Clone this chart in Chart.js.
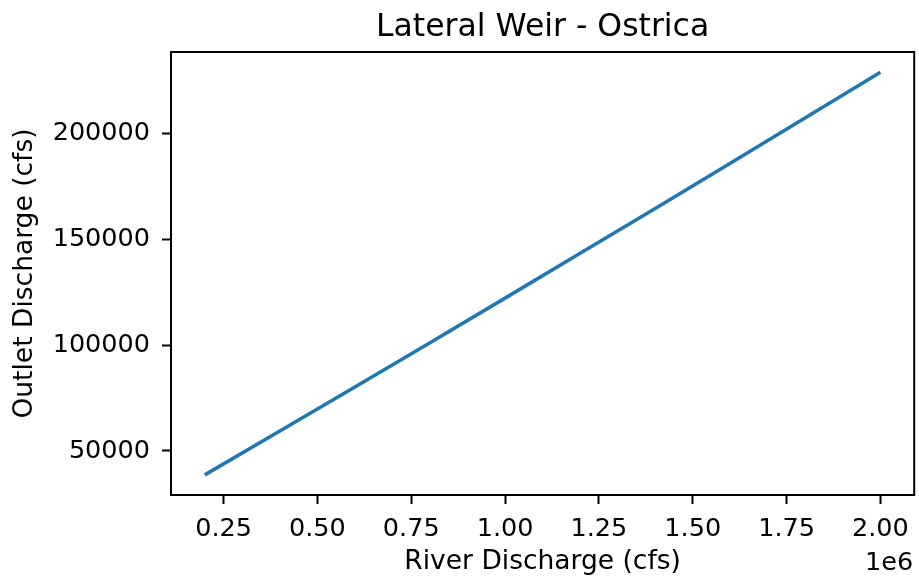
<!DOCTYPE html>
<html>
<head>
<meta charset="utf-8">
<script src="https://cdn.jsdelivr.net/npm/chart.js@4.4.1/dist/chart.umd.min.js"></script>
<style>
  html, body { margin: 0; padding: 0; background: #fff; }
  #wrap { width: 919px; height: 578px; position: relative; }
</style>
</head>
<body>
<div id="wrap"><canvas id="weirChart"></canvas></div>
<script>
// River discharge (cfs) and outlet discharge (cfs)
const riverDischarge = [200000, 400000, 600000, 800000, 1000000, 1200000, 1400000, 1600000, 1800000, 2000000];
const outletDischarge = [38700, 59400, 80300, 101200, 122300, 143500, 164700, 186100, 207600, 229200];

const xTicks = [250000, 500000, 750000, 1000000, 1250000, 1500000, 1750000, 2000000];
const yTicks = [50000, 100000, 150000, 200000];

const FONT = "'DejaVu Sans', sans-serif";

// matplotlib-like 5% margins around the data
const xRange = Math.max(...riverDischarge) - Math.min(...riverDischarge);
const yRange = Math.max(...outletDischarge) - Math.min(...outletDischarge);
const xMin = Math.min(...riverDischarge) - 0.05 * xRange;
const xMax = Math.max(...riverDischarge) + 0.05 * xRange;
const yMin = Math.min(...outletDischarge) - 0.05 * yRange;
const yMax = Math.max(...outletDischarge) + 0.05 * yRange;

// frame, title and the 1e6 offset text
const framePlugin = {
  id: "frame",
  afterDraw(chart) {
    const { ctx, chartArea: a } = chart;
    ctx.save();
    ctx.strokeStyle = "#000";
    ctx.lineWidth = 2;
    ctx.strokeRect(a.left, a.top, a.right - a.left, a.bottom - a.top);
    ctx.fillStyle = "#000";
    ctx.textBaseline = "alphabetic";
    ctx.font = "31.5px " + FONT;
    ctx.textAlign = "center";
    ctx.fillText("Lateral Weir - Ostrica", (a.left + a.right) / 2, 36);
    ctx.font = "25.5px " + FONT;
    ctx.textAlign = "right";
    ctx.fillText("1e6", a.right - 1, 570);
    ctx.restore();
  }
};

new Chart(document.getElementById("weirChart"), {
  type: "scatter",
  data: {
    datasets: [{
      label: "Outlet Discharge",
      data: riverDischarge.map((x, i) => ({ x: x, y: outletDischarge[i] })),
      showLine: true,
      borderColor: "#1f77b4",
      borderWidth: 3.5,
      pointRadius: 0,
      fill: false,
      tension: 0
    }]
  },
  options: {
    responsive: true,
    maintainAspectRatio: false,
    animation: false,
    layout: { padding: { left: 0, right: 4, top: 52, bottom: 0 } },
    plugins: {
      legend: { display: false },
      tooltip: { enabled: false },
      title: { display: false }
    },
    scales: {
      x: {
        type: "linear",
        min: xMin,
        max: xMax,
        border: { display: false },
        grid: { drawOnChartArea: false, drawTicks: true, tickLength: 9, tickColor: "#000", tickWidth: 2 },
        afterBuildTicks: s => { s.ticks = xTicks.map(v => ({ value: v })); },
        ticks: {
          maxRotation: 0,
          autoSkip: false,
          padding: 10,
          color: "#000",
          font: { family: FONT, size: 25.5 },
          callback: v => (v / 1e6).toFixed(2)
        },
        title: {
          display: true,
          text: "River Discharge (cfs)",
          color: "#000",
          font: { family: FONT, size: 26.5 },
          padding: { top: 4, bottom: 0 }
        },
        afterFit: s => { s.height = 83; }
      },
      y: {
        type: "linear",
        min: yMin,
        max: yMax,
        border: { display: false },
        grid: { drawOnChartArea: false, drawTicks: true, tickLength: 9, tickColor: "#000", tickWidth: 2 },
        afterBuildTicks: s => { s.ticks = yTicks.map(v => ({ value: v })); },
        ticks: {
          autoSkip: false,
          padding: 12,
          color: "#000",
          font: { family: FONT, size: 25.5 },
          callback: v => String(v)
        },
        title: {
          display: true,
          text: "Outlet Discharge (cfs)",
          color: "#000",
          font: { family: FONT, size: 26.5 },
          padding: { top: 9, bottom: 0 }
        },
        afterFit: s => { s.width = 171; }
      }
    }
  },
  plugins: [framePlugin]
});
</script>
</body>
</html>
